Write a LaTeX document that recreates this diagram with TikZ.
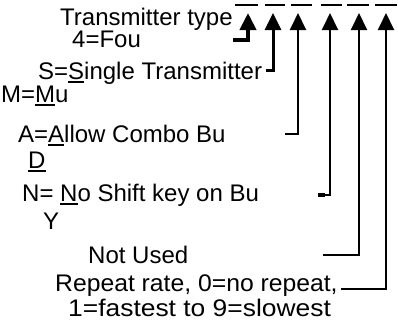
\documentclass[tikz,border=0pt]{standalone}
\usepackage{fontspec}
\setmainfont{Liberation Sans}
\usetikzlibrary{arrows.meta}
\newcommand\ulx[1]{\setbox0\hbox{#1}\rlap{\rule[-3.5pt]{\wd0}{1.8pt}}#1}
\begin{document}
\begin{tikzpicture}[x=1pt,y=-1pt,
  lbl/.style={anchor=base west,inner sep=0pt,font=\fontsize{24}{24}\selectfont},
  arr/.style={-{Triangle[width=16pt,length=17pt]},line width=2pt},
  slotline/.style={line width=2pt}]
\useasboundingbox (0,0) rectangle (398,322);
% slots
\draw[slotline] (235,5) -- (258,5);
\draw[slotline] (265,5) -- (285,5);
\draw[slotline] (291,5) -- (312,5);
\draw[slotline] (321,5) -- (342,5);
\draw[slotline] (347,5) -- (369,5);
\draw[slotline] (375,5) -- (397,5);
% labels
\node[lbl] (l1) at (60,25) {Transmitter type};
\node[lbl] (l2) at (72,47) {4=Fou};
\node[lbl] (l3) at (38,79) {S=\ulx{S}ingle Transmitter};
\node[lbl] (l4) at (1,102) {M=\ulx{M}u};
\node[lbl] (l5) at (18,142) {A=\ulx{A}llow Combo Bu};
\node[lbl] (l6) at (28,168) {\ulx{D}};
\node[lbl] (l7) at (22,201) {N= \ulx{N}o Shift key on Bu};
\node[lbl] (l8) at (43,229) {Y};
\node[lbl] (l9) at (88,263) {Not Used};
\node[lbl] (l10) at (55,291) {\scalebox{1.03}[1]{Repeat rate, 0=no repeat,}};
\node[lbl] (l11) at (68,316) {\scalebox{1.1}[1]{1=fastest to 9=slowest}};
% connector ends
\coordinate (s1) at (233,40);  \coordinate (t1) at (248,13);
\coordinate (s2) at (266,70);  \coordinate (t2) at (273,13);
\coordinate (s3) at (285,134); \coordinate (t3) at (298,13);
\coordinate (s4) at (318,195); \coordinate (t4) at (330,13);
\coordinate (s5) at (323,255); \coordinate (t5) at (359,13);
\coordinate (s6) at (341,289); \coordinate (t6) at (386,13);
\draw[arr,line width=4pt] (s1) -| (t1);
\draw[arr,line width=3pt] (s2) -| (t2);
\draw[arr] (s3) -| (t3);
\draw[arr] (s4) -| (t4);
\draw[line width=4pt] (s4) -- ++(7,0);
\draw[arr] (s5) -| (t5);
\draw[arr] (s6) -| (t6);
\end{tikzpicture}
\end{document}
